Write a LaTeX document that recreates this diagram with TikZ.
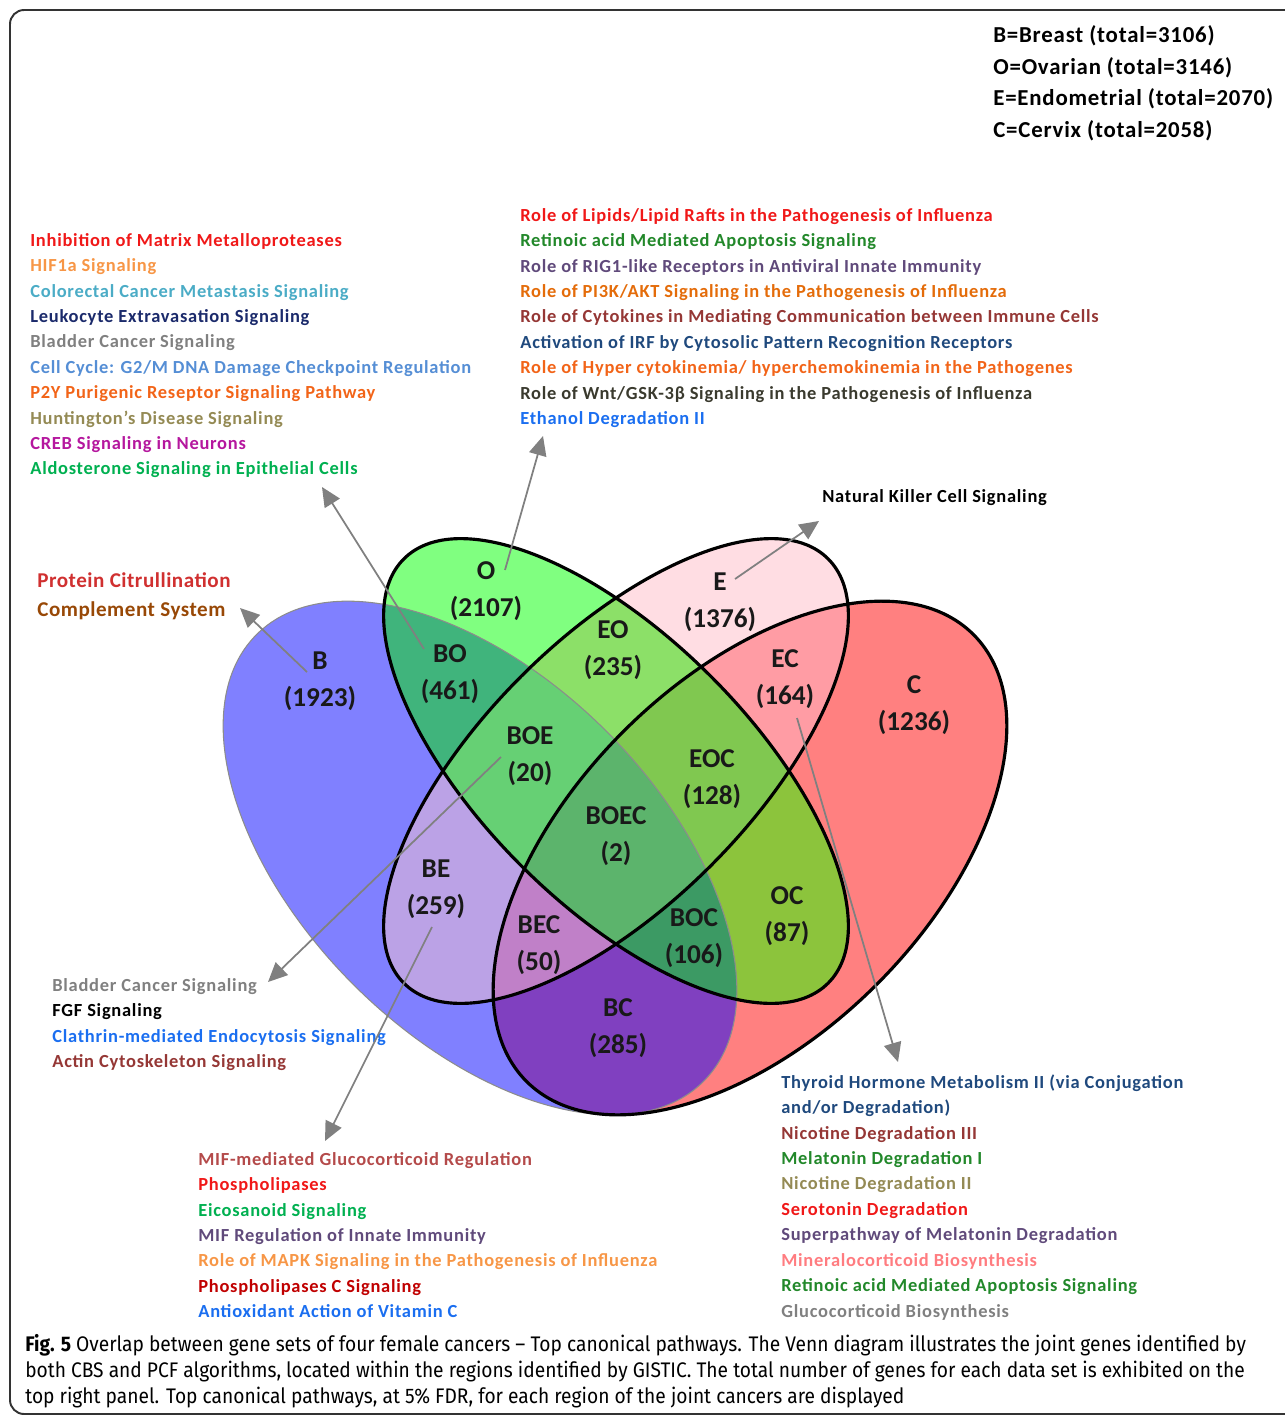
\documentclass[tikz,border=0pt]{standalone}
\usepackage{fontspec}
\setmainfont{Carlito}
\newfontfamily\pwfont{Carlito}[LetterSpace=4]
\newfontfamily\legfont{Carlito}[LetterSpace=3.5]
\newfontfamily\citfont{Carlito}[LetterSpace=2.5]
\newfontfamily\capfont{Fira Sans}[FakeStretch=0.91]
\usetikzlibrary{positioning,arrows.meta}
% set colours
\definecolor{fB}{HTML}{8080FF}
\definecolor{fO}{HTML}{80FF80}
\definecolor{fE}{HTML}{FFDDE3}
\definecolor{fC}{HTML}{FF8080}
\definecolor{fBO}{HTML}{40B47C}
\definecolor{fBE}{HTML}{BBA2E6}
\definecolor{fBC}{HTML}{8040C0}
\definecolor{fEO}{HTML}{8CE068}
\definecolor{fEC}{HTML}{FF9CA4}
\definecolor{fOC}{HTML}{8CC43C}
\definecolor{fBOE}{HTML}{66D074}
\definecolor{fBOC}{HTML}{3C9A64}
\definecolor{fBEC}{HTML}{C080C8}
\definecolor{fEOC}{HTML}{80C850}
\definecolor{fBOEC}{HTML}{5CB46C}
% text colours
\definecolor{tRed}{HTML}{F01818}
\definecolor{tLtOr}{HTML}{F79646}
\definecolor{tOr}{HTML}{F26418}
\definecolor{tDkOr}{HTML}{E46C0A}
\definecolor{tSky}{HTML}{4BACC6}
\definecolor{tNavy}{HTML}{1B2A6B}
\definecolor{tBlue}{HTML}{1F497D}
\definecolor{tGray}{HTML}{808080}
\definecolor{tCorn}{HTML}{558ED5}
\definecolor{tOlive}{HTML}{948A54}
\definecolor{tMag}{HTML}{B5179E}
\definecolor{tGrn}{HTML}{00B050}
\definecolor{tDkGrn}{HTML}{22882A}
\definecolor{tPurp}{HTML}{604A7B}
\definecolor{tBrick}{HTML}{953735}
\definecolor{tDark}{HTML}{3A3A2E}
\definecolor{tAzure}{HTML}{1A6EF0}
\definecolor{tRose}{HTML}{B44A4A}
\definecolor{tCrim}{HTML}{C00000}
\definecolor{tPink}{HTML}{FF7C80}
\definecolor{tBrown}{HTML}{984806}
\definecolor{tCit}{HTML}{D03030}
\newcommand\eB{(480,-858) ellipse (316 and 179)}
\newcommand\eC{(750,-858) ellipse (316 and 179)}
\newcommand\eO{(616,-771) ellipse (300 and 134)}
\newcommand\eE{(616,-771) ellipse (300 and 134)}

\begin{document}
\begin{tikzpicture}[x=0.02cm,y=0.02cm,
  rotB/.style={rotate around={-45:(480,-858)}},
  rotC/.style={rotate around={45:(750,-858)}},
  rotO/.style={rotate around={-45:(616,-771)}},
  rotE/.style={rotate around={45:(616,-771)}},
  pw/.style={anchor=west,inner xsep=0pt,inner ysep=0pt,text height=9.5pt,text depth=4.56pt,font=\pwfont\bfseries\fontsize{10.5}{12}\selectfont},
  nx/.style={below=0pt of #1.south west,anchor=north west},
  leg/.style={anchor=west,inner sep=0pt,text height=12pt,text depth=5.58pt,font=\legfont\bfseries\fontsize{13}{15}\selectfont},
  vn/.style={align=center,inner sep=0pt,font=\bfseries\fontsize{15.5}{21}\selectfont,text=black!90},
  arr/.style={-{Triangle[length=11pt,width=10pt]},line width=1pt,black!50},
  rim/.style={line width=1.8pt,black}]
\useasboundingbox (0,0) rectangle (1285,-1417);
\draw[line width=1.1pt,black!80,rounded corners=8pt] (10,-10) rectangle (1330,-1414);

% venn regions
\fill[fB,rotB] \eB;
\fill[fC,rotC] \eC;
\fill[fO,rotO] \eO;
\fill[fE,rotE] \eE;
\begin{scope}\clip[rotB] \eB; \fill[fBO,rotO] \eO; \end{scope}
\begin{scope}\clip[rotB] \eB; \fill[fBE,rotE] \eE; \end{scope}
\begin{scope}\clip[rotB] \eB; \fill[fBC,rotC] \eC; \end{scope}
\begin{scope}\clip[rotO] \eO; \fill[fEO,rotE] \eE; \end{scope}
\begin{scope}\clip[rotO] \eO; \fill[fOC,rotC] \eC; \end{scope}
\begin{scope}\clip[rotE] \eE; \fill[fEC,rotC] \eC; \end{scope}
\begin{scope}\clip[rotB] \eB; \clip[rotO] \eO; \fill[fBOE,rotE] \eE; \end{scope}
\begin{scope}\clip[rotB] \eB; \clip[rotO] \eO; \fill[fBOC,rotC] \eC; \end{scope}
\begin{scope}\clip[rotB] \eB; \clip[rotE] \eE; \fill[fBEC,rotC] \eC; \end{scope}
\begin{scope}\clip[rotO] \eO; \clip[rotE] \eE; \fill[fEOC,rotC] \eC; \end{scope}
\begin{scope}\clip[rotB] \eB; \clip[rotO] \eO; \clip[rotE] \eE; \fill[fBOEC,rotC] \eC; \end{scope}
\draw[black!45,line width=0.6pt,rotB] \eB;
\draw[rim,rotC] \eC;
\draw[rim,rotO] \eO;
\draw[rim,rotE] \eE;

% region labels
\node[vn] (vO) at (486,-591) {O\\(2107)};
\node[vn] (vE) at (720,-602) {E\\(1376)};
\node[vn] (vB) at (320,-681) {B\\(1923)};
\node[vn] (vBO) at (450,-674) {BO\\(461)};
\node[vn] (vEO) at (613,-650) {EO\\(235)};
\node[vn] (vEC) at (785,-679) {EC\\(164)};
\node[vn] (vC) at (914,-705) {C\\(1236)};
\node[vn] (vBOE) at (530,-756) {BOE\\(20)};
\node[vn] (vEOC) at (712,-779) {EOC\\(128)};
\node[vn] (vBOEC) at (616,-836) {BOEC\\(2)};
\node[vn] (vBE) at (436,-889) {BE\\(259)};
\node[vn] (vBEC) at (539,-945) {BEC\\(50)};
\node[vn] (vBOC) at (694,-938) {BOC\\(106)};
\node[vn] (vOC) at (787,-916) {OC\\(87)};
\node[vn] (vBC) at (618,-1028) {BC\\(285)};

% legend
\node[leg] (g1) at (993,-37) {B=Breast (total=3106)};
\node[leg,below=0pt of g1.south west,anchor=north west] (g2) {O=Ovarian (total=3146)};
\node[leg,below=0pt of g2.south west,anchor=north west] (g3) {E=Endometrial (total=2070)};
\node[leg,below=0pt of g3.south west,anchor=north west] (g4) {C=Cervix (total=2058)};

% pathways of BO
\node[pw,text=tRed] (l1) at (30,-242) {Inhibition of Matrix Metalloproteases};
\node[pw,text=tLtOr,nx=l1] (l2) {HIF1a Signaling};
\node[pw,text=tSky,nx=l2] (l3) {Colorectal Cancer Metastasis Signaling};
\node[pw,text=tNavy,nx=l3] (l4) {Leukocyte Extravasation Signaling};
\node[pw,text=tGray,nx=l4] (l5) {Bladder Cancer Signaling};
\node[pw,text=tCorn,nx=l5] (l6) {Cell Cycle: G2/M DNA Damage Checkpoint Regulation};
\node[pw,text=tOr,nx=l6] (l7) {P2Y Purigenic Reseptor Signaling Pathway};
\node[pw,text=tOlive,nx=l7] (l8) {Huntington’s Disease Signaling};
\node[pw,text=tMag,nx=l8] (l9) {CREB Signaling in Neurons};
\node[pw,text=tGrn,nx=l9] (l10) {Aldosterone Signaling in Epithelial Cells};

% pathways of O
\node[pw,text=tRed] (m1) at (520,-217) {Role of Lipids/Lipid Rafts in the Pathogenesis of Influenza};
\node[pw,text=tDkGrn,nx=m1] (m2) {Retinoic acid Mediated Apoptosis Signaling};
\node[pw,text=tPurp,nx=m2] (m3) {Role of RIG1-like Receptors in Antiviral Innate Immunity};
\node[pw,text=tDkOr,nx=m3] (m4) {Role of PI3K/AKT Signaling in the Pathogenesis of Influenza};
\node[pw,text=tBrick,nx=m4] (m5) {Role of Cytokines in Mediating Communication between Immune Cells};
\node[pw,text=tBlue,nx=m5] (m6) {Activation of IRF by Cytosolic Pattern Recognition Receptors};
\node[pw,text=tOr,nx=m6] (m7) {Role of Hyper cytokinemia/ hyperchemokinemia in the Pathogenes};
\node[pw,text=tDark,nx=m7] (m8) {Role of Wnt/GSK-3β Signaling in the Pathogenesis of Influenza};
\node[pw,text=tAzure,nx=m8] (m9) {Ethanol Degradation II};

% pathways of E and B
\node[pw,text=black] (nk) at (822,-498) {Natural Killer Cell Signaling};
\node[pw,text=tCit,font=\citfont\bfseries\fontsize{12}{14}\selectfont] (pc1) at (37,-583) {Protein Citrullination};
\node[pw,text=tBrown,font=\citfont\bfseries\fontsize{12}{14}\selectfont] (pc2) at (37,-612) {Complement System};

% pathways of BOE
\node[pw,text=tGray] (b1) at (52,-987) {Bladder Cancer Signaling};
\node[pw,text=black,nx=b1] (b2) {FGF Signaling};
\node[pw,text=tAzure,nx=b2] (b3) {Clathrin-mediated Endocytosis Signaling};
\node[pw,text=tBrick,nx=b3] (b4) {Actin Cytoskeleton Signaling};

% pathways of BE
\node[pw,text=tRose] (e1) at (198,-1161) {MIF-mediated Glucocorticoid Regulation};
\node[pw,text=tRed,nx=e1] (e2) {Phospholipases};
\node[pw,text=tGrn,nx=e2] (e3) {Eicosanoid Signaling};
\node[pw,text=tPurp,nx=e3] (e4) {MIF Regulation of Innate Immunity};
\node[pw,text=tLtOr,nx=e4] (e5) {Role of MAPK Signaling in the Pathogenesis of Influenza};
\node[pw,text=tCrim,nx=e5] (e6) {Phospholipases C Signaling};
\node[pw,text=tAzure,nx=e6] (e7) {Antioxidant Action of Vitamin C};

% pathways of EC
\node[pw,text=tBlue] (r1) at (781,-1084) {Thyroid Hormone Metabolism II (via Conjugation};
\node[pw,text=tBlue,nx=r1] (r2) {and/or Degradation)};
\node[pw,text=tBrick,nx=r2] (r3) {Nicotine Degradation III};
\node[pw,text=tDkGrn,nx=r3] (r4) {Melatonin Degradation I};
\node[pw,text=tOlive,nx=r4] (r5) {Nicotine Degradation II};
\node[pw,text=tRed,nx=r5] (r6) {Serotonin Degradation};
\node[pw,text=tPurp,nx=r6] (r7) {Superpathway of Melatonin Degradation};
\node[pw,text=tPink,nx=r7] (r8) {Mineralocorticoid Biosynthesis};
\node[pw,text=tDkGrn,nx=r8] (r9) {Retinoic acid Mediated Apoptosis Signaling};
\node[pw,text=tGray,nx=r9] (r10) {Glucocorticoid Biosynthesis};

% pointers
\coordinate (sB) at (307,-672); \coordinate (tB) at (240,-608);
\coordinate (sBO) at (424,-649); \coordinate (tBO) at (322,-487);
\coordinate (sO) at (505,-570); \coordinate (tO) at (543,-436);
\coordinate (sE) at (735,-579); \coordinate (tE) at (819,-521);
\coordinate (sBOE) at (501,-757); \coordinate (tBOE) at (268,-982);
\coordinate (sBE) at (432,-927); \coordinate (tBE) at (325,-1141);
\coordinate (sEC) at (797,-718); \coordinate (tEC) at (898,-1062);
\draw[arr] (sB)--(tB);
\draw[arr] (sBO)--(tBO);
\draw[arr] (sO)--(tO);
\draw[arr] (sE)--(tE);
\draw[arr] (sBOE)--(tBOE);
\draw[arr] (sBE)--(tBE);
\draw[arr] (sEC)--(tEC);

% caption
\node[anchor=north west,align=left,inner sep=0pt,font=\capfont\fontsize{12}{14.75}\selectfont] (cap) at (25,-1334)
  {{\bfseries Fig. 5} Overlap between gene sets of four female cancers – Top canonical pathways. The Venn diagram illustrates the joint genes identified by\\
   both CBS and PCF algorithms, located within the regions identified by GISTIC. The total number of genes for each data set is exhibited on the\\
   top right panel. Top canonical pathways, at 5\% FDR, for each region of the joint cancers are displayed};
\end{tikzpicture}
\end{document}
